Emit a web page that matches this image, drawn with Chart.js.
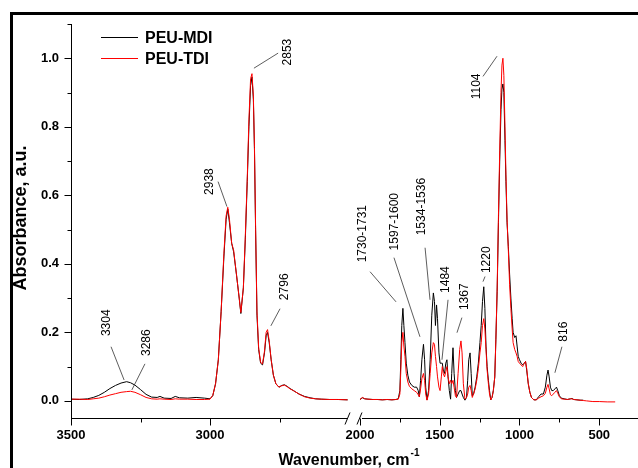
<!DOCTYPE html>
<html>
<head>
<meta charset="utf-8">
<title>PEU FTIR</title>
<style>
  body { margin: 0; background: #fff; }
  canvas { display: block; }
</style>
</head>
<body>
<canvas id="chart" width="638" height="468"></canvas>
<script src="https://cdn.jsdelivr.net/npm/chart.js"></script>
<script>
// --- data ---
// high wavenumber part, 3500 - 2500 cm-1
const waveHigh = [3500,3470,3440,3420,3400,3380,3360,3340,3320,3300,3286,3270,3250,3230,3210,
  3190,3180,3165,3140,3125,3110,3080,3050,3020,3000,2990,2980,2970,2960,2950,2942,2936,2930,2922,2915,
  2905,2895,2889,2880,2873,2866,2860,2854,2849,2844,2840,2836,2831,2825,2818,2811,2804,2798,2793,2787,
  2780,2772,2763,2752,2742,2732,2722,2712,2700,2680,2660,2640,2620,2600,2570,2540,2505];
const mdiHigh = [.005,.004,.006,.010,.016,.025,.036,.045,.052,.056,.053,.046,.033,.019,.011,
  .010,.013,.008,.007,.013,.009,.008,.010,.008,.006,.015,.05,.12,.26,.42,.53,.56,.52,.46,.435,
  .37,.30,.255,.33,.47,.64,.80,.92,.945,.88,.73,.50,.25,.15,.11,.105,.14,.19,.20,.17,
  .12,.075,.05,.04,.045,.047,.042,.036,.03,.02,.013,.009,.006,.005,.004,.004,.003];
const tdiHigh = [.005,.005,.004,.006,.008,.012,.017,.021,.025,.027,.028,.025,.018,.010,.006,
  .005,.006,.005,.004,.006,.005,.005,.004,.004,.005,.016,.05,.12,.26,.43,.54,.565,.53,.46,.44,
  .37,.30,.258,.33,.48,.65,.82,.94,.955,.89,.74,.51,.26,.155,.112,.108,.145,.20,.208,.175,
  .12,.075,.05,.04,.044,.046,.041,.035,.03,.02,.012,.008,.006,.005,.004,.004,.003];

// low wavenumber part, 2000 - 400 cm-1
const waveLow = [2000,1985,1970,1950,1920,1890,1860,1830,1800,1775,1760,1750,1744,1738,1731,
  1725,1718,1710,1700,1690,1675,1660,1645,1635,1628,1620,1612,1602,1595,1588,1580,1570,1560,1550,1540,
  1533,1527,1520,1514,1505,1498,1490,1484,1478,1470,1462,1455,1448,1440,1432,1425,1417,1410,1402,1395,
  1385,1375,1367,1360,1352,1342,1332,1325,1318,1310,1303,1296,1288,1278,1268,1258,1248,1240,1232,1224,
  1217,1210,1203,1195,1188,1180,1172,1164,1155,1148,1140,1132,1124,1116,1110,1104,1098,1091,1085,1078,
  1070,1062,1054,1046,1040,1030,1022,1015,1008,1000,990,980,970,962,955,945,935,925,910,895,
  880,865,850,838,828,821,814,806,798,788,778,768,760,750,738,720,700,680,671,660,
  640,620,600,580,540,500,450,400];
const mdiLow = [.004,.009,.006,.005,.004,.004,.003,.004,.003,.004,.006,.03,.12,.22,.27,
  .22,.17,.11,.075,.055,.045,.04,.04,.03,.012,.06,.12,.165,.12,.04,.003,.03,.12,.25,.315,
  .29,.22,.28,.24,.14,.11,.11,.11,.09,.08,.11,.12,.07,.03,.005,.08,.155,.08,.03,.01,
  .02,.03,.03,.02,.01,.002,.01,.06,.12,.14,.08,.015,.02,.04,.07,.11,.17,.22,.29,.333,
  .27,.16,.10,.06,.03,.003,.01,.03,.07,.18,.32,.52,.70,.85,.91,.925,.90,.76,.64,.52,
  .45,.37,.30,.24,.20,.185,.19,.16,.13,.12,.11,.105,.11,.115,.09,.05,.025,.01,.003,.003,
  .012,.02,.02,.04,.075,.09,.07,.04,.03,.03,.035,.04,.03,.015,.008,.006,.004,.006,.007,.004,
  .003,.002,.002,null,null,null,null,null];
const tdiLow = [.004,.010,.006,.005,.004,.004,.003,.004,.003,.004,.005,.02,.09,.17,.20,
  .16,.13,.08,.055,.042,.035,.03,.025,.018,.012,.035,.065,.08,.06,.02,.002,.02,.08,.14,.17,
  .165,.13,.10,.07,.04,.03,.07,.10,.08,.07,.085,.10,.07,.05,.06,.05,.06,.04,.015,.01,
  .08,.15,.175,.14,.05,.005,.01,.02,.04,.045,.03,.01,.02,.035,.06,.095,.14,.17,.22,.24,
  .21,.15,.09,.05,.02,.003,.01,.03,.07,.18,.33,.54,.73,.90,.98,1.0,.95,.80,.66,.53,
  .44,.34,.27,.21,.17,.15,.14,.13,.115,.11,.105,.10,.11,.115,.095,.05,.025,.01,.003,.003,
  .008,.012,.015,.022,.04,.048,.035,.018,.015,.02,.025,.03,.022,.012,.006,.005,.004,.006,.006,.004,
  .003,.002,.001,0,-.002,-.002,-.003,-.003];

const seriesNames = ['PEU-MDI', 'PEU-TDI'];
const seriesColors = ['#000000', '#ff0000'];

const xTicks = [3500, 3000, 2000, 1500, 1000, 500];
const xMinor = [3250, 2750, 1750, 1250, 750];
const yTicks = [0, 0.2, 0.4, 0.6, 0.8, 1.0];
const yMinor = [0.1, 0.3, 0.5, 0.7, 0.9, 1.1];

// peak labels: text, text position (wavenumber, absorbance), leader line end points
const peakLabels = [
  { text: '3304', at: [3370, 0.228], line: [3356, 0.158, 3309, 0.061] },
  { text: '3286', at: [3227, 0.170], line: [3234, 0.108, 3281, 0.032] },
  { text: '2938', at: [3000, 0.640], line: [2971, 0.640, 2939, 0.567] },
  { text: '2853', at: [2719, 1.018], line: [2755, 1.015, 2842, 0.971] },
  { text: '2796', at: [2730, 0.333], line: [2748, 0.269, 2781, 0.219] },
  { text: '1730-1731', at: [1981, 0.488], line: [1937, 0.377, 1774, 0.289] },
  { text: '1597-1600', at: [1781, 0.523], line: [1787, 0.418, 1624, 0.187] },
  { text: '1534-1536', at: [1611, 0.567], line: [1592, 0.447, 1561, 0.295] },
  { text: '1484', at: [1461, 0.354], line: [1448, 0.295, 1486, 0.120] },
  { text: '1367', at: [1342, 0.304], line: [1361, 0.243, 1392, 0.199] },
  { text: '1220', at: [1204, 0.412], line: [1216, 0.363, 1229, 0.348] },
  { text: '1104', at: [1266, 0.918], line: [1229, 0.947, 1141, 1.006] },
  { text: '816', at: [721, 0.202], line: [734, 0.158, 778, 0.082] }
];

// axis break
const X_MAX = 3500, X_MIN = 257;
const BREAK_HI = 2500, BREAK_LO = 2000;
const LEFT_PART = 0.4903, RIGHT_START = 0.5097;

const FONT = 'Arial, "Liberation Sans", sans-serif';

// linear scale with a gap between BREAK_HI and BREAK_LO
class BrokenScale extends Chart.LinearScale {
  static id = 'broken';
  static defaults = Chart.LinearScale.defaults;
  frac(v) {
    if (v >= BREAK_HI) return (X_MAX - v) / (X_MAX - BREAK_HI) * LEFT_PART;
    if (v <= BREAK_LO) return RIGHT_START + (BREAK_LO - v) / (BREAK_LO - X_MIN) * (1 - RIGHT_START);
    return LEFT_PART + (BREAK_HI - v) / (BREAK_HI - BREAK_LO) * (RIGHT_START - LEFT_PART);
  }
  getPixelForValue(v) {
    if (v === null || v === undefined || isNaN(v)) return NaN;
    return this.left + this.frac(v) * this.width;
  }
  getValueForPixel(p) {
    const f = (p - this.left) / this.width;
    if (f <= LEFT_PART) return X_MAX - f / LEFT_PART * (X_MAX - BREAK_HI);
    if (f >= RIGHT_START) return BREAK_LO - (f - RIGHT_START) / (1 - RIGHT_START) * (BREAK_LO - X_MIN);
    return BREAK_HI - (f - LEFT_PART) / (RIGHT_START - LEFT_PART) * (BREAK_HI - BREAK_LO);
  }
}
Chart.register(BrokenScale);

function points(xs, ys) {
  return xs.map((x, i) => ({ x: x, y: ys[i] }));
}
const mdiData = points(waveHigh, mdiHigh).concat([{ x: 2250, y: null }], points(waveLow, mdiLow));
const tdiData = points(waveHigh, tdiHigh).concat([{ x: 2250, y: null }], points(waveLow, tdiLow));

function seg(ctx, x1, y1, x2, y2) {
  ctx.beginPath();
  ctx.moveTo(x1, y1);
  ctx.lineTo(x2, y2);
  ctx.stroke();
}

const decor = {
  id: 'decor',
  beforeDraw(chart) {
    const ctx = chart.ctx;
    ctx.save();
    ctx.fillStyle = '#fff';
    ctx.fillRect(0, 0, chart.width, chart.height);
    ctx.fillStyle = '#000';
    ctx.fillRect(10, 12, chart.width - 10, 3);
    ctx.fillRect(10, 12, 3, chart.height - 12);
    ctx.restore();
  },
  afterDraw(chart) {
    const ctx = chart.ctx;
    const a = chart.chartArea;
    const x = chart.scales.x, y = chart.scales.y;
    ctx.save();
    ctx.strokeStyle = '#000';
    ctx.lineWidth = 1;

    // y axis + ticks
    const ax = a.left + 0.5;
    seg(ctx, ax, a.top, ax, a.bottom + 0.5);
    yTicks.forEach(v => { const p = Math.round(y.getPixelForValue(v)) + 0.5; seg(ctx, ax - 7, p, ax, p); });
    yMinor.forEach(v => { const p = Math.round(y.getPixelForValue(v)) + 0.5; seg(ctx, ax - 4, p, ax, p); });

    // x axis with break
    const ay = a.bottom + 0.5;
    const gL = x.getPixelForValue(BREAK_HI), gR = x.getPixelForValue(BREAK_LO);
    seg(ctx, a.left, ay, gL - 2, ay);
    seg(ctx, gR + 2, ay, a.right, ay);
    seg(ctx, gL - 4, ay + 6, gL + 1, ay - 6);
    seg(ctx, gR - 3, ay + 6, gR + 2, ay - 6);
    xTicks.forEach(v => { const p = Math.round(x.getPixelForValue(v)) + 0.5; seg(ctx, p, ay, p, ay + 7); });
    xMinor.forEach(v => { const p = Math.round(x.getPixelForValue(v)) + 0.5; seg(ctx, p, ay, p, ay + 4); });

    // legend
    ctx.font = 'bold 16px ' + FONT;
    ctx.textBaseline = 'middle';
    ctx.textAlign = 'left';
    seriesNames.forEach((name, i) => {
      const ly = 37.5 + i * 21;
      ctx.strokeStyle = seriesColors[i];
      seg(ctx, a.left + 30, ly, a.left + 67, ly);
      ctx.fillStyle = '#000';
      ctx.fillText(name, a.left + 74, ly + 1);
    });

    // peak labels
    ctx.font = '12px ' + FONT;
    ctx.textAlign = 'center';
    ctx.textBaseline = 'middle';
    ctx.strokeStyle = '#333';
    ctx.lineWidth = 0.8;
    peakLabels.forEach(l => {
      const [x1, y1, x2, y2] = l.line;
      seg(ctx, x.getPixelForValue(x1), y.getPixelForValue(y1), x.getPixelForValue(x2), y.getPixelForValue(y2));
      ctx.save();
      ctx.translate(x.getPixelForValue(l.at[0]), y.getPixelForValue(l.at[1]));
      ctx.rotate(-Math.PI / 2);
      ctx.fillStyle = '#000';
      ctx.fillText(l.text, 0, 0);
      ctx.restore();
    });

    // axis titles
    ctx.fillStyle = '#000';
    ctx.save();
    ctx.translate(21, 218);
    ctx.rotate(-Math.PI / 2);
    ctx.font = 'bold 18px ' + FONT;
    ctx.textAlign = 'center';
    ctx.fillText('Absorbance, a.u.', 0, 0);
    ctx.restore();

    ctx.textAlign = 'left';
    ctx.textBaseline = 'alphabetic';
    ctx.font = 'bold 16px ' + FONT;
    const main = 'Wavenumber, cm';
    const w1 = ctx.measureText(main).width;
    ctx.font = 'bold 10px ' + FONT;
    const w2 = ctx.measureText('-1').width;
    const tx = (a.left + a.right) / 2 - 6 - (w1 + w2) / 2;
    ctx.font = 'bold 16px ' + FONT;
    ctx.fillText(main, tx, 465);
    ctx.font = 'bold 10px ' + FONT;
    ctx.fillText('-1', tx + w1 + 1, 456);
    ctx.restore();
  }
};

new Chart(document.getElementById('chart'), {
  type: 'line',
  data: {
    datasets: [
      { label: seriesNames[0], data: mdiData, borderColor: seriesColors[0], order: 1 },
      { label: seriesNames[1], data: tdiData, borderColor: seriesColors[1], order: 0 }
    ]
  },
  options: {
    responsive: false,
    animation: false,
    spanGaps: false,
    layout: { padding: { top: 24, right: 0, left: 0, bottom: 0 } },
    elements: {
      point: { radius: 0 },
      line: { borderWidth: 1, tension: 0, fill: false }
    },
    plugins: {
      legend: { display: false },
      tooltip: { enabled: false }
    },
    scales: {
      x: {
        type: 'broken',
        min: X_MIN,
        max: X_MAX,
        grid: { display: false, drawTicks: false },
        border: { display: false },
        afterBuildTicks: s => { s.ticks = xTicks.map(v => ({ value: v })); },
        afterFit: s => { s.height = 50; },
        ticks: {
          autoSkip: false,
          maxRotation: 0,
          padding: 10,
          color: '#000',
          font: { family: FONT, size: 13, weight: 'bold' },
          callback: v => String(v)
        }
      },
      y: {
        min: -0.05,
        max: 1.1,
        grid: { display: false, drawTicks: false },
        border: { display: false },
        afterBuildTicks: s => { s.ticks = yTicks.map(v => ({ value: v })); },
        afterFit: s => { s.width = 71; },
        ticks: {
          padding: 12,
          color: '#000',
          font: { family: FONT, size: 13, weight: 'bold' },
          callback: v => v.toFixed(1)
        }
      }
    }
  },
  plugins: [decor]
});
</script>
</body>
</html>
